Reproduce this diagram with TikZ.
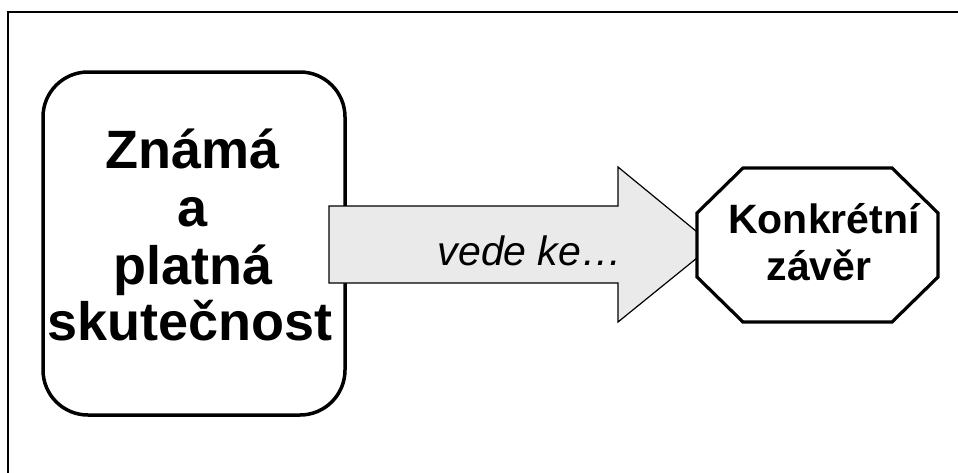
\documentclass[tikz,border=0pt]{standalone}
\usepackage{fontspec}
\setmainfont{Liberation Sans}
\begin{document}
\begin{tikzpicture}[x=1pt,y=-1pt,
  frame/.style={line width=2pt},
  factbox/.style={draw,line width=3.5pt,rounded corners=45pt,minimum width=302pt,minimum height=343pt,inner sep=0pt},
  bigarrow/.style={draw,fill=arrowgray,line width=1.2pt,line join=miter},
  octo/.style={draw,fill=white,line width=3.2pt,line join=miter},
  bigtxt/.style={anchor=base,inner sep=0pt,font=\bfseries\fontsize{54}{54}\selectfont},
  octtxt/.style={anchor=base,inner sep=0pt,font=\bfseries\fontsize{41}{41}\selectfont},
  arrtxt/.style={anchor=base,inner sep=0pt,font=\itshape\fontsize{41}{41}\selectfont}
]
\definecolor{arrowgray}{HTML}{EAEAEA}
\useasboundingbox (0,0) rectangle (958,472);
\fill[white] (0,0) rectangle (958,472);
% frame (top and left only visible)
\coordinate (fTR) at (960,12);
\coordinate (fTL) at (8,12);
\coordinate (fBL) at (8,474);
\draw[frame] (fTR) -- (fTL) -- (fBL);
% left rounded box
\node[factbox] (box) at (194,243.5) {};
\node[bigtxt] (l1) at (193,168) {Známá};
\node[bigtxt] (l2) at (193,226) {a};
\node[bigtxt] (l3) at (193,284) {platná};
\node[bigtxt] (l4) at (190,340) {skutečnost};
% block arrow
\draw[bigarrow] (329,206) -- (618,206) -- (618,167) -- (713,245) -- (618,322) -- (618,283) -- (329,283) -- cycle;
\node[arrtxt] (lead) at (530,265) {vede ke…};
% octagon
\draw[octo] (697,213) -- (697,277) -- (743,322) -- (892,322) -- (938,277) -- (938,213) -- (892,168) -- (743,168) -- cycle;
\node[octtxt] (o1) at (824,233) {Konkrétní};
\node[octtxt] (o2) at (819,280) {závěr};
\end{tikzpicture}
\end{document}
